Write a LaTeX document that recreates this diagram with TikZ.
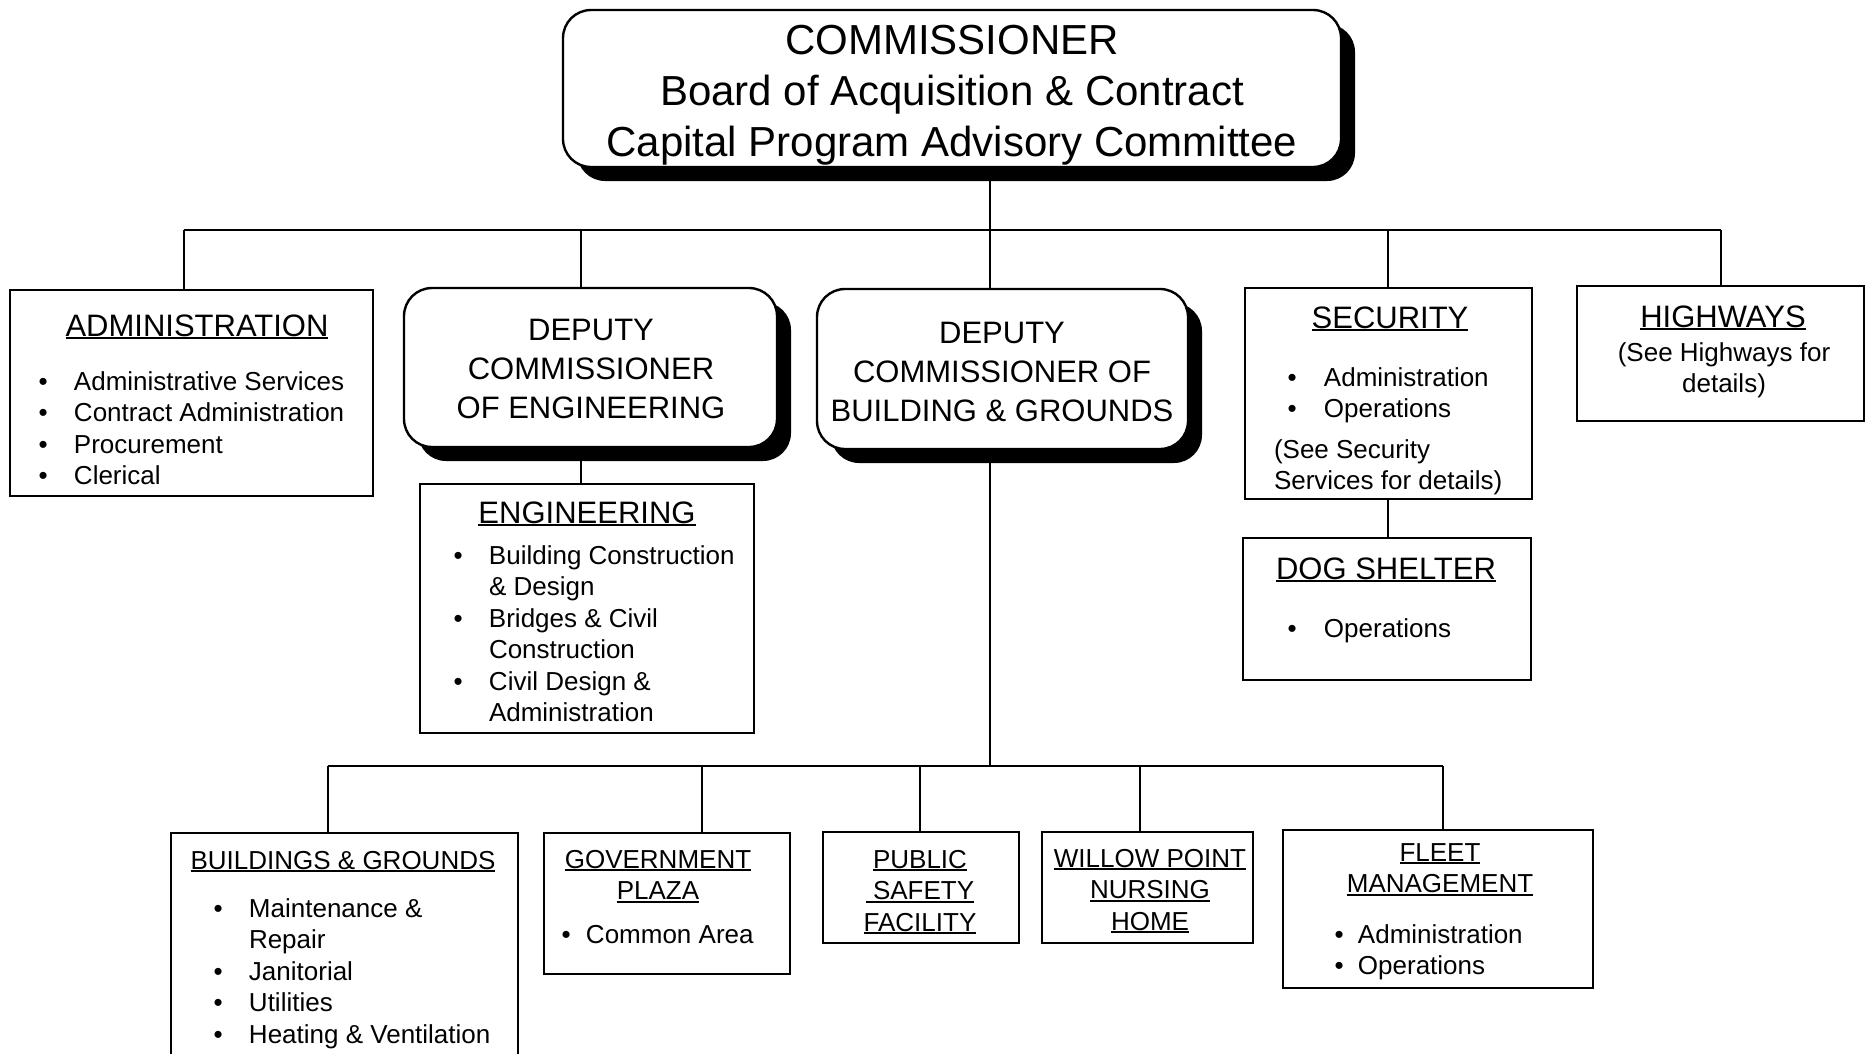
\documentclass[tikz,border=0pt]{standalone}
\usepackage{fontspec}
\setmainfont{Liberation Sans}
\usetikzlibrary{shadows}
\pgfdeclarelayer{background}
\pgfsetlayers{background,main}
\newcommand\fA{\fontsize{42}{51}\selectfont}
\newcommand\fB{\fontsize{31}{39}\selectfont}
\newcommand\fC{\fontsize{26}{31.5}\selectfont}
\newcommand\udl[1]{\setbox0=\hbox{#1}\leavevmode\rlap{\copy0}\rule[-0.11em]{\wd0}{0.07em}}
\newcommand\bl[1]{\leavevmode\llap{\makebox[#1][l]{•}}}
\newcommand\st{\rule{0pt}{0.8em}}
\begin{document}
\begin{tikzpicture}[x=1pt,y=-1pt,
  box/.style={draw, line width=2.4pt, fill=white, inner sep=0pt, outer sep=0pt, anchor=north west},
  rbox/.style={box, rounded corners=28pt, drop shadow={shadow xshift=14pt, shadow yshift=-14pt, opacity=1, fill=black}},
  conn/.style={line width=2.2pt},
  tx/.style={inner sep=0pt, outer sep=0pt, align=left, anchor=north west},
  tc/.style={inner sep=0pt, outer sep=0pt, align=center, anchor=north}]
\useasboundingbox (0,0) rectangle (1871,1053);
% boxes
\node[rbox, minimum width=778pt, minimum height=157pt] (comm) at (563,10) {};
\node[rbox, minimum width=373pt, minimum height=159pt] (depeng) at (404,288) {};
\node[rbox, minimum width=371pt, minimum height=160pt] (depbg) at (817,289) {};
\node[box, minimum width=363pt, minimum height=206pt] (admin) at (10,290) {};
\node[box, minimum width=334pt, minimum height=249pt] (eng) at (420,484) {};
\node[box, minimum width=287pt, minimum height=211pt] (security) at (1245,288) {};
\node[box, minimum width=288pt, minimum height=142pt] (dog) at (1243,538) {};
\node[box, minimum width=287pt, minimum height=135pt] (highways) at (1577,286) {};
\node[box, minimum width=347pt, minimum height=240pt] (bg) at (171,833) {};
\node[box, minimum width=246pt, minimum height=141pt] (gov) at (544,833) {};
\node[box, minimum width=196pt, minimum height=111pt] (public) at (823,832) {};
\node[box, minimum width=211pt, minimum height=111pt] (willow) at (1042,832) {};
\node[box, minimum width=310pt, minimum height=158pt] (fleet) at (1283,830) {};
% connectors
\begin{pgfonlayer}{background}
\coordinate (t) at (990,230);
\coordinate (bl) at (184,230);
\coordinate (br) at (1721,230);
\coordinate (d2) at (581,230);
\coordinate (d4) at (1388,230);
\draw[conn] (comm.south -| t) -- (t);
\draw[conn] (bl) -- (br);
\draw[conn] (bl) -- (bl |- admin.north);
\draw[conn] (d2) -- (d2 |- depeng.north);
\draw[conn] (t) -- (t |- depbg.north);
\draw[conn] (d4) -- (d4 |- security.north);
\draw[conn] (br) -- (br |- highways.north);
\draw[conn] (depeng.south -| d2) -- (eng.north -| d2);
\draw[conn] (security.south -| d4) -- (dog.north -| d4);
\coordinate (m) at (990,766);
\coordinate (ml) at (328,766);
\coordinate (mr) at (1443,766);
\coordinate (m2) at (702,766);
\coordinate (m3) at (920,766);
\coordinate (m4) at (1140,766);
\draw[conn] (depbg.south -| m) -- (m);
\draw[conn] (ml) -- (mr);
\draw[conn] (ml) -- (ml |- bg.north);
\draw[conn] (m2) -- (m2 |- gov.north);
\draw[conn] (m3) -- (m3 |- public.north);
\draw[conn] (m4) -- (m4 |- willow.north);
\draw[conn] (mr) -- (mr |- fleet.north);
\end{pgfonlayer}
% texts
\node[tc, font=\fA] (commt) at (952,20.4) {\st COMMISSIONER\\Board of Acquisition \& Contract\\Capital Program Advisory Committee};
\node[tc, font=\fB] (depengt) at (591,315.2) {\st DEPUTY\\COMMISSIONER\\OF ENGINEERING};
\node[tc, font=\fB] (depbgt) at (1002,318.2) {\st DEPUTY\\COMMISSIONER OF\\BUILDING \& GROUNDS};
\node[tc, font=\fB] (adminh) at (197,311.2) {\st\udl{ADMINISTRATION}};
\node[tx, font=\fC] (admini) at (74,369.6) {\st\bl{35.5pt}Administrative Services\\\bl{35.5pt}Contract Administration\\\bl{35.5pt}Procurement\\\bl{35.5pt}Clerical};
\node[tc, font=\fB] (engh) at (587,498.2) {\st\udl{ENGINEERING}};
\node[tx, font=\fC] (engi) at (489,543.6) {\st\bl{35.5pt}Building Construction\\\& Design\\\bl{35.5pt}Bridges \& Civil\\Construction\\\bl{35.5pt}Civil Design \&\\Administration};
\node[tc, font=\fB] (sech) at (1390,303.2) {\st\udl{SECURITY}};
\node[tx, font=\fC] (seci) at (1324,365.6) {\st\bl{36.5pt}Administration\\\bl{36.5pt}Operations};
\node[tx, font=\fC] (secn) at (1274,437.6) {\st(See Security\\Services for details)};
\node[tc, font=\fB] (hwyh) at (1723,302.2) {\st\udl{HIGHWAYS}};
\node[tc, font=\fC] (hwyn) at (1724,340.6) {\st(See Highways for\\details)};
\node[tc, font=\fB] (dogh) at (1386,554.2) {\st\udl{DOG SHELTER}};
\node[tx, font=\fC] (dogi) at (1324,616.6) {\st\bl{36.5pt}Operations};
\node[tc, font=\fC] (bgh) at (343,848.6) {\st\udl{BUILDINGS \& GROUNDS}};
\node[tx, font=\fC] (bgi) at (249,896.6) {\st\bl{35.5pt}Maintenance \&\\Repair\\\bl{35.5pt}Janitorial\\\bl{35.5pt}Utilities\\\bl{35.5pt}Heating \& Ventilation};
\node[tc, font=\fC] (govh) at (658,847.6) {\st\udl{GOVERNMENT}\\\udl{PLAZA}};
\node[tx, font=\fC] (govi) at (586,922.6) {\st\bl{24.5pt}Common Area};
\node[tc, font=\fC] (pubh) at (920,847.6) {\st\udl{PUBLIC}\\\udl{\ SAFETY}\\\udl{FACILITY}};
\node[tc, font=\fC] (wilh) at (1150,846.6) {\st\udl{WILLOW POINT}\\\udl{NURSING}\\\udl{HOME}};
\node[tc, font=\fC] (flth) at (1440,840.6) {\st\udl{FLEET}\\\udl{MANAGEMENT}};
\node[tx, font=\fC] (flti) at (1358,922.6) {\st\bl{23.5pt}Administration\\\bl{23.5pt}Operations};
\end{tikzpicture}
\end{document}
